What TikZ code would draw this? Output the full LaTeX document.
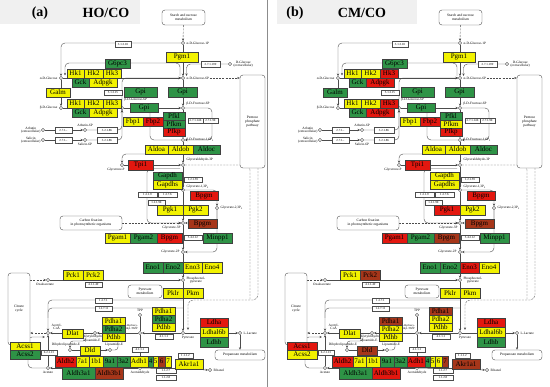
\documentclass[tikz,border=0pt]{standalone}
\usepackage{fontspec}
\setmainfont{Liberation Serif}
\usetikzlibrary{arrows.meta}
\pgfdeclarelayer{bg}
\pgfsetlayers{bg,main}
\definecolor{kY}{HTML}{F2F200}
\definecolor{kG}{HTML}{2E9346}
\definecolor{kR}{HTML}{E3170F}
\definecolor{kB}{HTML}{A6361A}
\tikzset{
 fY/.style={fill=kY}, fG/.style={fill=kG}, fR/.style={fill=kR}, fB/.style={fill=kB},
 gene/.style={draw=black!75, line width=0.35pt, inner sep=0pt, font=\fontsize{7}{7}\selectfont},
 ec/.style={draw=black!70, fill=white, line width=0.3pt, inner sep=0pt, font=\fontsize{3.1}{3.1}\selectfont},
 cpd/.style={circle, draw=black!80, fill=white, line width=0.35pt, inner sep=0pt, minimum size=3.4pt},
 lab/.style={font=\fontsize{3.4}{3.6}\selectfont, inner sep=0.4pt, align=center},
 ln/.style={draw=black!70, line width=0.4pt},
 arr/.style={-{Stealth[length=2.6pt,width=2.2pt]}},
 dsh/.style={dash pattern=on 2pt off 1.2pt},
 mapbox/.style={draw=black!70, rounded corners=3pt, line width=0.4pt, fill=white, font=\fontsize{3.6}{3.8}\selectfont, align=center, inner sep=0pt},
 ttl/.style={font=\fontsize{14}{14}\selectfont\bfseries, inner sep=0pt},
}
\newcommand\gn[6]{\node[gene,gc-#1,minimum width=#4pt,minimum height=#5pt] (#1) at ({#2+#4/2},{#3+#5/2}) {#6};}
\newcommand\ecb[6]{\node[ec,minimum width=#4pt,minimum height=#5pt] (#1) at ({#2+#4/2},{#3+#5/2}) {#6};}
\newcommand\mapb[6]{\node[mapbox,minimum width=#4pt,minimum height=#5pt] (#1) at ({#2+#4/2},{#3+#5/2}) {#6};}
\newcommand\cp[3]{\node[cpd] (#1) at (#2,#3) {};}
\newcommand\lb[5]{\node[lab,anchor=#4] (#1) at (#2,#3) {#5};}
\newcommand\panelbody{%
\mapb{starch}{162}{10}{43}{15}{Starch and sucrose\\metabolism}
\mapb{ppp}{240}{75}{25}{93}{Pentose\\phosphate\\pathway}
\mapb{cfix}{60}{216}{62}{14}{Carbon fixation\\in photosynthetic organisms}
\mapb{tca}{8}{273}{22}{72}{Citrate\\cycle}
\mapb{pyrm}{128}{285}{34}{13}{Pyruvate\\metabolism}
\mapb{prop}{215}{350}{50}{10}{Propanoate metabolism}
\cp{g1p}{183}{43}\cp{dglc}{230}{64}\cp{g6p}{183}{78}\cp{aglc}{61}{78}\cp{bglc}{61}{108}
\cp{bg6p}{122}{108}\cp{f6p}{183}{108}\cp{f16p}{183}{140}
\cp{arb}{43}{130}\cp{arb6p}{85}{130}\cp{sal}{43}{140}\cp{sal6p}{85}{140}
\cp{gap}{183}{165}\cp{dhap}{122}{165}\cp{g13p}{183}{190}\cp{g23p}{217}{208}
\cp{g3p}{183}{223}\cp{g2p}{183}{252}\cp{pep}{183}{280}\cp{oaa}{48}{280}
\cp{pyr}{183}{333}\cp{lac}{240}{333}\cp{tpp}{140}{315}\cp{hthpp}{140}{333}
\cp{sadl}{95}{333}\cp{dhl}{70}{350}\cp{lip}{110}{350}\cp{acoa}{48}{333}
\cp{acet}{48}{368}\cp{acald}{140}{368}\cp{etoh}{210}{370}
\lb{L1}{186}{43}{west}{α-D-Glucose-1P}
\lb{L2}{233}{64}{west}{D-Glucose\\(extracellular)}
\lb{L3}{186}{78}{west}{α-D-Glucose-6P}
\lb{L4}{58}{78}{east}{α-D-Glucose}
\lb{L5}{58}{108}{east}{β-D-Glucose}
\lb{L6}{124}{100}{west}{β-D-Glucose-6P}
\lb{L7}{186}{104}{west}{β-D-Fructose-6P}
\lb{L8}{186}{140}{west}{β-D-Fructose-1,6P\textsubscript{2}}
\lb{L9}{41}{130}{east}{Arbutin\\(extracellular)}
\lb{L10}{85}{127}{south}{Arbutin-6P}
\lb{L11}{41}{140}{east}{Salicin\\(extracellular)}
\lb{L12}{85}{143}{north}{Salicin-6P}
\lb{L13}{186}{160}{west}{Glyceraldehyde-3P}
\lb{L14}{116}{168}{north}{Glycerone-P}
\lb{L15}{186}{187}{west}{Glycerate-1,3P\textsubscript{2}}
\lb{L16}{220}{208}{west}{Glycerate-2,3P\textsubscript{2}}
\lb{L17}{181}{226}{north east}{Glycerate-3P}
\lb{L18}{180}{252}{east}{Glycerate-2P}
\lb{L19}{186}{280}{west}{Phosphoenol-\\pyruvate}
\lb{L20}{45}{283}{north}{Oxaloacetate}
\lb{L21}{188}{336}{north}{Pyruvate}
\lb{L22}{243}{333}{west}{L-Lactate}
\lb{L23}{51}{327}{west}{Acetyl-\\CoA}
\lb{L24}{48}{371}{north}{Acetate}
\lb{L25}{140}{371}{north}{Acetaldehyde}
\lb{L26}{213}{370}{west}{Ethanol}
\lb{L27}{140}{312}{south}{TPP}
\node[lab,anchor=east,font=\fontsize{2.8}{3}\selectfont] (L28) at (138.5,327) {2-Hydroxy-\\ethyl-ThPP};
\lb{L29}{92}{335}{north}{S-Acetyldihydro-\\lipoamide-E}
\lb{L30}{66}{347}{south}{Dihydrolipoamide-E}
\lb{L31}{114}{347}{south}{Lipoamide-E}
\ecb{e1}{115}{41}{16}{6}{3.1.3.10}
\ecb{e2}{201}{61}{19}{6}{2.7.1.199}
\ecb{e3}{104}{90}{18}{5}{5.1.3.15}
\ecb{e4}{188}{118}{15}{5}{2.7.1.146}
\ecb{e5}{203}{118}{15}{5}{2.7.1.90}
\ecb{e6}{55}{127}{17}{6}{2.7.1.-}
\ecb{e7}{97}{127}{20}{6}{3.2.1.86}
\ecb{e8}{55}{137}{17}{6}{2.7.1.-}
\ecb{e9}{97}{137}{20}{6}{3.2.1.86}
\ecb{e10}{184}{177}{18}{5}{1.2.1.59}
\ecb{e11}{138}{192}{19}{5}{1.2.1.9}
\ecb{e12}{158}{192}{19}{5}{1.2.7.6}
\ecb{e13}{148}{200}{17}{5}{1.2.1.90}
\ecb{e14}{184}{235}{18}{5}{5.4.2.12}
\ecb{e15}{85}{282}{17}{5}{4.1.1.49}
\ecb{e16}{95}{298}{17}{5}{1.2.7.1}
\ecb{e17}{95}{306}{17}{5}{1.2.7.11}
\ecb{e18}{155}{334}{18}{5}{4.1.1.1}
\ecb{e19}{132}{347}{16}{5}{4.1.1.1}
\ecb{e20}{41}{350}{16}{5}{6.2.1.13}
\ecb{e21}{178}{353}{15}{5}{1.1.1.2}
\ecb{e22}{156}{368}{20}{5}{1.1.2.7}
\ecb{e23}{156}{375}{20}{5}{1.1.2.8}
\gn{Pgm1}{166}{52}{32}{10}{Pgm1}
\gn{G6pc3}{105}{59}{25}{9}{G6pc3}
\gn{HkA1}{67}{69}{17}{9}{Hk1}\gn{HkA2}{84}{69}{19}{9}{Hk2}\gn{HkA3}{103}{69}{18}{9}{Hk3}
\gn{GckA}{72}{78}{17}{9}{Gck}\gn{AdpgkA}{89}{78}{28}{9}{Adpgk}
\gn{Galm}{46}{88}{24}{9}{Galm}
\gn{GpiA}{124}{87}{33}{10}{Gpi}\gn{GpiB}{168}{87}{29}{10}{Gpi}
\gn{HkB1}{67}{99}{17}{9}{Hk1}\gn{HkB2}{84}{99}{19}{9}{Hk2}\gn{HkB3}{103}{99}{18}{9}{Hk3}
\gn{GckB}{72}{108}{17}{9}{Gck}\gn{AdpgkB}{89}{108}{28}{9}{Adpgk}
\gn{GpiC}{130}{103}{28}{9}{Gpi}
\gn{Fbp1}{123}{117}{20}{9}{Fbp1}\gn{Fbp2}{143}{117}{20}{9}{Fbp2}
\gn{Pfkl}{163}{112}{22}{8}{Pfkl}\gn{Pfkm}{163}{120}{22}{8}{Pfkm}\gn{Pfkp}{163}{128}{22}{8}{Pfkp}
\gn{Aldoa}{145}{145}{23}{9}{Aldoa}\gn{Aldob}{168}{145}{25}{9}{Aldob}\gn{Aldoc}{193}{145}{27}{9}{Aldoc}
\gn{Tpi1}{128}{160}{25}{10}{Tpi1}
\gn{Gapdh}{153}{172}{29}{8}{Gapdh}\gn{Gapdhs}{153}{180}{29}{9}{Gapdhs}
\gn{BpgmA}{190}{191}{28}{9}{Bpgm}
\gn{Pgk1}{157}{205}{26}{10}{Pgk1}\gn{Pgk2}{183}{205}{25}{10}{Pgk2}
\gn{BpgmB}{188}{219}{29}{9}{Bpgm}
\gn{Pgam1}{105}{233}{25}{10}{Pgam1}\gn{Pgam2}{130}{233}{27}{10}{Pgam2}\gn{BpgmC}{157}{233}{25}{10}{Bpgm}\gn{Minpp1}{203}{233}{29}{10}{Minpp1}
\gn{Eno1}{143}{262}{20}{11}{Eno1}\gn{Eno2}{163}{262}{20}{11}{Eno2}\gn{Eno3}{183}{262}{19}{11}{Eno3}\gn{Eno4}{202}{262}{20}{11}{Eno4}
\gn{Pck1}{63}{270}{20}{10}{Pck1}\gn{Pck2}{83}{270}{20}{10}{Pck2}
\gn{Pklr}{163}{288}{20}{10}{Pklr}\gn{Pkm}{183}{288}{20}{10}{Pkm}
\gn{PdhaA1}{152}{307}{23}{8}{Pdha1}\gn{PdhaA2}{152}{315}{23}{8}{Pdha2}\gn{PdhbA}{152}{323}{23}{8}{Pdhb}
\gn{PdhaB1}{102}{317}{23}{8}{Pdha1}\gn{PdhaB2}{102}{325}{23}{8}{Pdha2}\gn{PdhbB}{102}{333}{23}{8}{Pdhb}
\gn{Dlat}{62}{329}{21}{9}{Dlat}
\gn{Dld}{80}{346}{20}{9}{Dld}
\gn{Acss1}{10}{342}{30}{8}{Acss1}\gn{Acss2}{10}{350}{30}{9}{Acss2}
\gn{Ldha}{200}{318}{28}{9}{Ldha}\gn{Ldhal6b}{200}{327}{28}{10}{Ldhal6b}\gn{Ldhb}{200}{337}{28}{10}{Ldhb}
\gn{Aldh2}{55}{356}{21}{11}{Aldh2}\gn{A7a1}{76}{356}{13}{11}{7a1}\gn{A1b1}{89}{356}{14}{11}{1b1}\gn{A9a1}{103}{356}{14}{11}{9a1}\gn{A3a2}{117}{356}{13}{11}{3a2}
\gn{Adh1}{130}{356}{18}{11}{Adh1}\gn{Adh4}{148}{356}{5}{11}{4}\gn{Adh5}{153}{356}{5}{11}{5}\gn{Adh6}{158}{356}{7}{11}{6}\gn{Adh7}{165}{356}{6}{11}{7}
\gn{Aldh3a1}{62}{367}{33}{12}{Aldh3a1}\gn{Aldh3b1}{95}{367}{28}{12}{Aldh3b1}
\gn{Akr1a1}{175}{359}{28}{10}{Akr1a1}
\begin{pgfonlayer}{bg}
\draw[ln,arr,dsh] (starch) -- (g1p);
\draw[ln,arr] (g1p) -- (g6p);
\draw[ln,arr,rounded corners=4] (g1p) -| (aglc);
\draw[ln,arr,rounded corners=4] (180,76) |- (65,63) -- (65,75.5);
\draw[ln,arr] (aglc) -- (g6p);
\draw[ln,arr] (aglc) -- (bglc);
\draw[ln,arr] (bglc) -- (bg6p);
\draw[ln,arr,rounded corners=4] (bg6p) |- (g6p);
\draw[ln,arr] (g6p) -- (f6p);
\draw[ln,arr] (bg6p) -- (f6p);
\draw[ln,arr] (arb) -- (arb6p);
\draw[ln,arr,rounded corners=4] (arb6p) -| (bg6p);
\draw[ln,arr] (sal) -- (sal6p);
\draw[ln,arr,rounded corners=4] (sal6p) -| (bg6p);
\draw[ln,arr] (f6p) -- (f16p);
\draw[ln,arr,rounded corners=4] (f6p) -- (212,108) -- (212,140) -- (f16p);
\draw[ln,arr,rounded corners=4] (f16p) -- (150,140) -- (150,110.5);
\draw[ln,arr,rounded corners=4] (dglc) -| (186.5,76);
\draw[ln,arr,dsh] (L3.east) -- (ppp.west |- g6p);
\draw[ln,arr] (f16p) -- (gap);
\draw[ln,arr,rounded corners=4] (183,154) -| (dhap);
\draw[ln,arr] (dhap) -- (gap);
\draw[ln,arr] (gap) -- (g13p);
\draw[ln,arr,rounded corners=4] (180,168.5) -| (147,200) |- (g3p);
\draw[ln,arr] (g13p) -- (g3p);
\draw[ln,arr,rounded corners=4] (g13p) -| (g23p);
\draw[ln,arr,rounded corners=4] (g23p) |- (g3p);
\draw[ln,arr,rounded corners=4] (g23p) |- (g2p);
\draw[ln,arr,dsh] (cfix) -- (g3p);
\draw[ln,arr] (g3p) -- (g2p);
\draw[ln,arr] (g2p) -- (pep);
\draw[ln,arr] (pep) -- (pyr);
\draw[ln,arr] (oaa) -- (pep);
\draw[ln,arr,dsh] (tca.east |- oaa) -- (oaa);
\draw[ln,arr,dsh] (acoa) -- (tca.east |- acoa);
\draw[ln,dsh,rounded corners=5] (gap) -- (250,165) -- (250,300);
\draw[ln,arr,dsh,rounded corners=5] (258,168) -- (258,300) -- (188,300) -- (188,330);
\draw[ln,arr,rounded corners=4] (183,300) -- (48,300) -- (acoa);
\draw[ln,rounded corners=4] (183,308) -| (48,318);
\draw[ln,arr] (pyr) -- (hthpp);
\draw[ln] (tpp) -- (hthpp);
\draw[ln,arr] (hthpp) -- (sadl);
\draw[ln,arr] (sadl) -- (acoa);
\draw[ln,arr,rounded corners=3] (86,333) |- (78,341) -| (dhl);
\draw[ln,arr] (dhl) -- (lip);
\draw[ln,rounded corners=3] (lip) -| (118,341);
\draw[ln,arr] (acet) -- (acoa);
\draw[ln,arr,rounded corners=4] (acet) -| (28,345) |- (45,337);
\draw[ln,arr] (acald) -- (acet);
\draw[ln,arr] (hthpp) -- (acald);
\draw[ln,arr] (acald) -- (etoh);
\draw[ln,arr] (pyr) -- (lac);
\draw[ln,arr] (lac) -- (prop);
\end{pgfonlayer}
}
\begin{document}
\begin{tikzpicture}[x=1pt,y=-1pt]
\useasboundingbox (0,0) rectangle (550,387);
\begin{pgfonlayer}{bg}
\fill[black!6] (0,0) rectangle (140,24);
\fill[black!6] (277,0) rectangle (417,24);
\end{pgfonlayer}
\draw[black!45,line width=0.5pt] (267,0) -- (267,387);
\node[ttl] (ta) at (40,13) {(a)};
\node[ttl] (tah) at (106,13) {HO/CO};
\node[ttl] (tb) at (295,13) {(b)};
\node[ttl] (tbh) at (362,13) {CM/CO};
\begin{scope}[name prefix=a-]
\tikzset{gc-Pgm1/.style=fY, gc-G6pc3/.style=fG, gc-HkA1/.style=fY, gc-HkA2/.style=fY, gc-HkA3/.style=fY,
 gc-GckA/.style=fG, gc-AdpgkA/.style=fY, gc-Galm/.style=fY, gc-GpiA/.style=fG, gc-GpiB/.style=fG,
 gc-HkB1/.style=fY, gc-HkB2/.style=fY, gc-HkB3/.style=fY, gc-GckB/.style=fG, gc-AdpgkB/.style=fY, gc-GpiC/.style=fG,
 gc-Fbp1/.style=fY, gc-Fbp2/.style=fR, gc-Pfkl/.style=fG, gc-Pfkm/.style=fG, gc-Pfkp/.style=fR,
 gc-Aldoa/.style=fY, gc-Aldob/.style=fY, gc-Aldoc/.style=fG, gc-Tpi1/.style=fR, gc-Gapdh/.style=fG, gc-Gapdhs/.style=fY,
 gc-BpgmA/.style=fR, gc-Pgk1/.style=fY, gc-Pgk2/.style=fY, gc-BpgmB/.style=fB,
 gc-Pgam1/.style=fY, gc-Pgam2/.style=fG, gc-BpgmC/.style=fR, gc-Minpp1/.style=fG,
 gc-Eno1/.style=fG, gc-Eno2/.style=fG, gc-Eno3/.style=fY, gc-Eno4/.style=fY,
 gc-Pck1/.style=fY, gc-Pck2/.style=fY, gc-Pklr/.style=fY, gc-Pkm/.style=fY,
 gc-PdhaA1/.style=fY, gc-PdhaA2/.style=fG, gc-PdhbA/.style=fY, gc-PdhaB1/.style=fY, gc-PdhaB2/.style=fG, gc-PdhbB/.style=fY,
 gc-Dlat/.style=fY, gc-Dld/.style=fY, gc-Acss1/.style=fY, gc-Acss2/.style=fG,
 gc-Ldha/.style=fR, gc-Ldhal6b/.style=fY, gc-Ldhb/.style=fG,
 gc-Aldh2/.style=fR, gc-A7a1/.style=fY, gc-A1b1/.style=fY, gc-A9a1/.style=fG, gc-A3a2/.style=fG,
 gc-Adh1/.style=fY, gc-Adh4/.style=fG, gc-Adh5/.style=fY, gc-Adh6/.style=fB, gc-Adh7/.style=fY,
 gc-Aldh3a1/.style=fG, gc-Aldh3b1/.style=fB, gc-Akr1a1/.style=fY}
\panelbody
\end{scope}
\begin{scope}[shift={(277,0)},name prefix=b-]
\tikzset{gc-Pgm1/.style=fY, gc-G6pc3/.style=fG, gc-HkA1/.style=fY, gc-HkA2/.style=fY, gc-HkA3/.style=fR,
 gc-GckA/.style=fG, gc-AdpgkA/.style=fR, gc-Galm/.style=fG, gc-GpiA/.style=fG, gc-GpiB/.style=fG,
 gc-HkB1/.style=fY, gc-HkB2/.style=fY, gc-HkB3/.style=fR, gc-GckB/.style=fG, gc-AdpgkB/.style=fR, gc-GpiC/.style=fG,
 gc-Fbp1/.style=fY, gc-Fbp2/.style=fR, gc-Pfkl/.style=fG, gc-Pfkm/.style=fY, gc-Pfkp/.style=fR,
 gc-Aldoa/.style=fY, gc-Aldob/.style=fY, gc-Aldoc/.style=fG, gc-Tpi1/.style=fR, gc-Gapdh/.style=fY, gc-Gapdhs/.style=fY,
 gc-BpgmA/.style=fR, gc-Pgk1/.style=fR, gc-Pgk2/.style=fY, gc-BpgmB/.style=fB,
 gc-Pgam1/.style=fR, gc-Pgam2/.style=fG, gc-BpgmC/.style=fB, gc-Minpp1/.style=fG,
 gc-Eno1/.style=fG, gc-Eno2/.style=fG, gc-Eno3/.style=fR, gc-Eno4/.style=fY,
 gc-Pck1/.style=fY, gc-Pck2/.style=fB, gc-Pklr/.style=fY, gc-Pkm/.style=fY,
 gc-PdhaA1/.style=fB, gc-PdhaA2/.style=fY, gc-PdhbA/.style=fY, gc-PdhaB1/.style=fB, gc-PdhaB2/.style=fY, gc-PdhbB/.style=fY,
 gc-Dlat/.style=fY, gc-Dld/.style=fB, gc-Acss1/.style=fR, gc-Acss2/.style=fY,
 gc-Ldha/.style=fR, gc-Ldhal6b/.style=fY, gc-Ldhb/.style=fG,
 gc-Aldh2/.style=fR, gc-A7a1/.style=fY, gc-A1b1/.style=fY, gc-A9a1/.style=fG, gc-A3a2/.style=fG,
 gc-Adh1/.style=fR, gc-Adh4/.style=fG, gc-Adh5/.style=fY, gc-Adh6/.style=fY, gc-Adh7/.style=fB,
 gc-Aldh3a1/.style=fG, gc-Aldh3b1/.style=fR, gc-Akr1a1/.style=fB}
\panelbody
\end{scope}
\end{tikzpicture}
\end{document}
